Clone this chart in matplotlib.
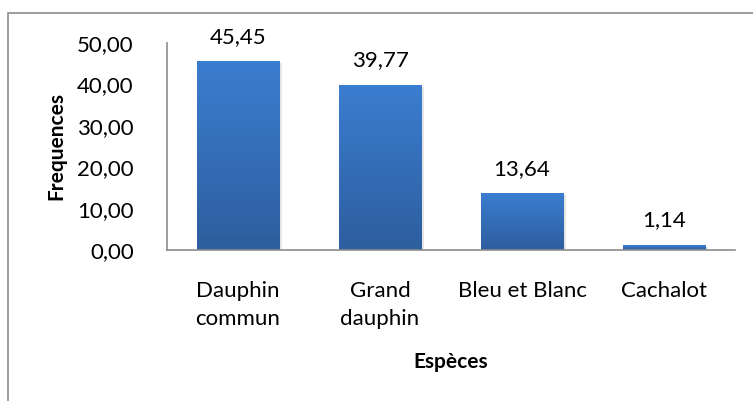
import matplotlib.pyplot as plt, numpy as np
from matplotlib.patches import Rectangle

# chart data
especes = ['Dauphin\ncommun', 'Grand\ndauphin', 'Bleu et Blanc', 'Cachalot']
frequences = [45.45, 39.77, 13.64, 1.14]
y_ticks = [0, 10, 20, 30, 40, 50]

plt.rcParams['font.family'] = ['Lato', 'DejaVu Sans']

fig = plt.figure(figsize=(7.53, 4.01), dpi=100)
ax = fig.add_axes([167/753, 1 - 250/401, (735 - 167)/753, (250 - 43)/401])

# outer chart border (left and top visible, rest cut off)
fig.patches.append(Rectangle((8/753, -0.05), 1.1, 1 - 13/401 + 0.05, transform=fig.transFigure,
                             fill=False, edgecolor='#8c8c8c', linewidth=1.2))

x = np.arange(len(especes))
width = 0.58
grad = np.linspace(0, 1, 256).reshape(-1, 1)
cmap = plt.matplotlib.colors.LinearSegmentedColormap.from_list('bar', ['#2d5e9e', '#3b7dd0'])

for xi, v in zip(x, frequences):
    # soft shadow
    ax.add_patch(Rectangle((xi - width/2 + 0.02, -0.3), width, v, facecolor='#000000',
                           alpha=0.1, edgecolor='none', zorder=1))
    ax.imshow(grad, extent=(xi - width/2, xi + width/2, 0, v), cmap=cmap, origin='lower',
              aspect='auto', zorder=2)
    ax.text(xi, v + 3.6, f'{v:.2f}'.replace('.', ','), ha='center', va='bottom', fontsize=16)

ax.set_xlim(-0.5, len(especes) - 0.5)
ax.set_ylim(0, 50)
ax.set_yticks(y_ticks)
ax.set_yticklabels([f'{t:.2f}'.replace('.', ',') for t in y_ticks], fontsize=16)
ax.set_xticks(x)
ax.set_xticklabels(especes, fontsize=16, linespacing=1.55, va='top')
ax.tick_params(length=0, pad=22, axis='x')
ax.tick_params(length=0, pad=24, axis='y')

for s in ['top', 'right']:
    ax.spines[s].set_visible(False)
for s in ['left', 'bottom']:
    ax.spines[s].set_color('#8c8c8c')
    ax.spines[s].set_linewidth(1.2)

ax.set_ylabel('Frequences', fontsize=15, fontweight='bold', labelpad=8)
ax.set_xlabel('Espèces', fontsize=15, fontweight='bold', labelpad=16)

fig.savefig('out.png', dpi=100)
